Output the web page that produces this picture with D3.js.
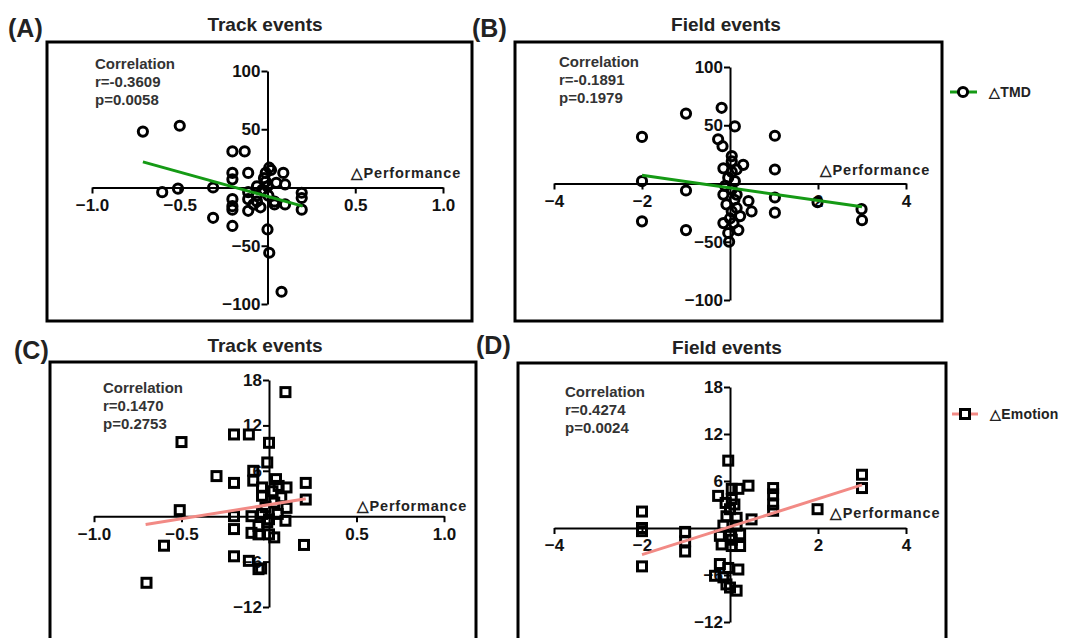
<!DOCTYPE html>
<html>
<head>
<meta charset="utf-8">
<script src="https://cdn.jsdelivr.net/npm/d3@7"></script>
<style>
  body { margin: 0; background: #fff; }
  svg { display: block; font-family: "Liberation Sans", Arial, sans-serif; }
  .tick-label { font-size: 17px; font-weight: bold; fill: #111; }
  .corr { font-size: 15px; font-weight: bold; fill: #333; }
  .title { font-size: 19px; font-weight: bold; fill: #222; }
  .plabel { font-size: 25px; font-weight: bold; fill: #222; }
  .xlab { font-size: 14.5px; font-weight: bold; fill: #222; letter-spacing: 0.8px; }
  .leg { font-size: 14px; font-weight: bold; fill: #222; letter-spacing: 0.2px; }
</style>
</head>
<body>
<svg id="chart" width="1065" height="638"></svg>
<script>
// ---- data ----
// (A) Track events, dTMD vs dPerformance
const aX = [-0.71, -0.50, -0.60, -0.51, -0.31, -0.31, -0.20, -0.13, -0.20, -0.20, -0.20, -0.20, -0.20, -0.20,
  -0.11, -0.11, -0.11, -0.11, -0.06, -0.06, -0.06, -0.01, 0.02, -0.01, -0.03, 0.005, 0.04, 0.00, 0.01, 0.08,
  0.09, 0.05, 0.10, 0.10, 0.04, 0.195, 0.195, 0.195, -0.04, -0.08, 0.00, 0.01, -0.02];
const aY = [48, 53, -4, -1, 0, -26, 31, 31, 12.5, 7, -10, -16, -19, -33,
  12.5, -4, -10, -20, 1, -7, -12, 12.5, 15, 5, -2, -7, -12, -36, -56, -89.5,
  12.5, 4, 2.6, -14.5, -14.5, -4.5, -9, -19, -17, -14.5, 1, 17, 8];
const aFitX = [-0.71, 0.2];
const aFitY = [22, -16];

// (B) Field events, dTMD vs dPerformance
const bX = [-2, -2, -2, -1, -1, -1, -0.19, 0.11, -0.27, -0.17, 0.04, 0.04, 0.30, -0.15, 0.15, 0.04, -0.11, 0.11,
  -0.15, 0.15, 0.42, -0.08, 0.15, 0.49, 0.04, 0.23, -0.15, 0.08, 0.19, -0.04, -0.02, 1.02, 1.02, 1.02, 1.02,
  1.99, 2.99, 3.0, 0.04, -0.04, 0.10, 0.00];
const bY = [40, 2, -32.5, 60, -6, -40, 65, 49, 38, 32, 23.5, 19, 16, 13, 12, 10, -2, 2,
  -9.5, -9.5, -15, -18, -21, -24, -24, -28, -34, -34, -40, -42.5, -50, 41, 12, -12, -25,
  -16, -22, -31.5, -5, 5, -14, -30];
const bFitX = [-2, 3];
const bFitY = [7, -20];

// (C) Track events, dEmotion vs dPerformance
const cX = [-0.50, -0.30, -0.20, -0.20, -0.51, -0.60, -0.70, -0.20, -0.20, -0.20, 0.094, -0.115, 0.00, -0.01,
  -0.09, 0.21, 0.21, 0.20, -0.115, -0.045, -0.09, 0.04, -0.04, 0.02, 0.10, 0.055, 0.10, -0.04, 0.03, -0.10,
  -0.04, 0.05, 0.094, 0.00, -0.10, -0.06, 0.00, 0.03, -0.06, -0.01, -0.06, -0.02, 0.07];
const cY = [9.8, 5.3, 10.8, 4.4, 0.8, -3.9, -8.8, 0, -1.7, -5.3, 16.4, 10.8, 9.7, 7.1,
  6, 4.4, 2.2, -3.8, -5.9, -6.9, 4.7, 4.9, 3.8, 3.3, 3.8, 4, 1.1, 2.7, 1.8, 0,
  0.3, 0.3, -0.6, -0.4, -2.2, -2.4, -2.4, -2.8, -1.3, -0.8, -7, 1.2, 2.5];
const cFitX = [-0.705, 0.21];
const cFitY = [-1.1, 2.3];

// (D) Field events, dEmotion vs dPerformance
const dX = [-2, -2, -2, -2, -1.02, -1.02, -1.02, -0.04, -0.27, 0.04, 0.19, 0.42, 0.04, 0.00, -0.08, 0.15, 0.49,
  -0.15, 0.15, -0.23, 0.00, 0.23, -0.19, 0.04, 0.23, -0.23, -0.04, 0.19, -0.34, -0.15, -0.08, 0.00, 0.15,
  0.98, 0.98, 0.98, 0.98, 1.99, 3.0, 3.0, 0.04, 0.10, -0.10];
const dY = [2.1, 0, -0.4, -4.9, -0.5, -1.7, -3, 8.6, 4.1, 5, 5, 5.4, 3.7, 2.4, 1.5, 1.3, 1.1,
  0.3, 0.3, -1, -1, -0.8, -2.1, -2.3, -2.3, -4.6, -5.1, -5.3, -6.1, -6.3, -7.2, -7.6, -8,
  5.1, 4.3, 3.0, 2.2, 2.4, 6.8, 5.1, -1.5, 3, 3.2];
const dFitX = [-2, 3];
const dFitY = [-3.4, 5.5];

const trackXTicks = [-1.0, -0.5, 0.5, 1.0];
const fieldXTicks = [-4, -2, 2, 4];
const tmdYTicks = [-100, -50, 50, 100];
const emoYTicks = [-12, -6, 6, 12, 18];

const svg = d3.select("#chart");

function drawPanel(p) {
  const g = svg.append("g");
  const x = d3.scaleLinear().domain(p.xDomain).range(p.xRange);
  const y = d3.scaleLinear().domain(p.yDomain).range(p.yRange);

  // frame
  g.append("rect")
    .attr("x", p.frame[0]).attr("y", p.frame[1])
    .attr("width", p.frame[2] - p.frame[0]).attr("height", p.frame[3] - p.frame[1])
    .attr("fill", "none").attr("stroke", "#000").attr("stroke-width", 3);

  // panel letter and title
  g.append("text").attr("class", "plabel").attr("x", p.letterPos[0]).attr("y", p.letterPos[1]).text(p.letter);
  g.append("text").attr("class", "title").attr("text-anchor", "middle")
    .attr("x", p.titlePos[0]).attr("y", p.titlePos[1]).text(p.title);

  // x axis through y=0
  const xAxis = g.append("g").attr("transform", `translate(0,${y(0)})`)
    .call(d3.axisBottom(x).tickValues(p.xTicks).tickSize(6).tickSizeOuter(0)
      .tickFormat(p.xFormat));
  // y axis through x=0
  const yAxis = g.append("g").attr("transform", `translate(${x(0)},0)`)
    .call(d3.axisLeft(y).tickValues(p.yTicks).tickSize(6).tickPadding(1).tickSizeOuter(0));
  [xAxis, yAxis].forEach((ax) => {
    ax.select(".domain").attr("stroke", "#000").attr("stroke-width", 2);
    ax.selectAll(".tick line").attr("stroke", "#000").attr("stroke-width", 2);
    ax.selectAll(".tick text").attr("class", "tick-label").attr("font-family", null).attr("font-size", null);
  });
  xAxis.selectAll(".tick text").attr("dy", "0.85em");

  // x axis name
  g.append("text").attr("class", "xlab").attr("text-anchor", p.xlabAnchor)
    .attr("x", p.xlabPos[0]).attr("y", p.xlabPos[1]).text("\u25B3Performance");

  // correlation box
  const ct = g.append("text").attr("class", "corr").attr("x", p.corrPos[0]).attr("y", p.corrPos[1]);
  p.corr.forEach((s, i) => ct.append("tspan").attr("x", p.corrPos[0]).attr("dy", i ? 18 : 0).text(s));

  // points
  const pts = p.xs.map((v, i) => ({ x: v, y: p.ys[i] }));
  if (p.marker === "circle") {
    g.selectAll(".pt").data(pts).enter().append("circle")
      .attr("cx", (d) => x(d.x)).attr("cy", (d) => y(d.y)).attr("r", 4.6)
      .attr("fill", "none").attr("stroke", "#000").attr("stroke-width", 3);
  } else {
    g.selectAll(".pt").data(pts).enter().append("rect")
      .attr("x", (d) => x(d.x) - 4.5).attr("y", (d) => y(d.y) - 4.5)
      .attr("width", 9).attr("height", 9)
      .attr("fill", "none").attr("stroke", "#000").attr("stroke-width", 3);
  }

  // regression line
  const fit = p.fitX.map((v, i) => [x(v), y(p.fitY[i])]);
  g.append("path").attr("d", d3.line()(fit))
    .attr("stroke", p.lineColor).attr("stroke-width", 3).attr("fill", "none");
}

const fmt1 = d3.format(".1f");
const fmt0 = d3.format("d");

drawPanel({
  letter: "(A)", letterPos: [8, 37], title: "Track events", titlePos: [265, 31],
  frame: [47, 42, 472, 321],
  xDomain: [-1, 1], xRange: [92, 443], yDomain: [-100, 100], yRange: [304, 71],
  xTicks: trackXTicks, yTicks: tmdYTicks, xFormat: fmt1,
  xlabPos: [461, 178], xlabAnchor: "end",
  corrPos: [95, 69], corr: ["Correlation", "r=-0.3609", "p=0.0058"],
  xs: aX, ys: aY, fitX: aFitX, fitY: aFitY, marker: "circle", lineColor: "#159a15"
});

drawPanel({
  letter: "(B)", letterPos: [472, 37], title: "Field events", titlePos: [726, 31],
  frame: [515, 42, 942, 321],
  xDomain: [-4, 4], xRange: [554, 906], yDomain: [-100, 100], yRange: [300, 67],
  xTicks: fieldXTicks, yTicks: tmdYTicks, xFormat: fmt0,
  xlabPos: [930, 175], xlabAnchor: "end",
  corrPos: [559, 67], corr: ["Correlation", "r=-0.1891", "p=0.1979"],
  xs: bX, ys: bY, fitX: bFitX, fitY: bFitY, marker: "circle", lineColor: "#159a15"
});

drawPanel({
  letter: "(C)", letterPos: [14, 359], title: "Track events", titlePos: [265, 352],
  frame: [50, 362, 476, 646],
  xDomain: [-1, 1], xRange: [94, 444], yDomain: [-12, 18], yRange: [607, 380],
  xTicks: trackXTicks, yTicks: emoYTicks, xFormat: fmt1,
  xlabPos: [467, 511], xlabAnchor: "end",
  corrPos: [103, 393], corr: ["Correlation", "r=0.1470", "p=0.2753"],
  xs: cX, ys: cY, fitX: cFitX, fitY: cFitY, marker: "square", lineColor: "#f28a85"
});

drawPanel({
  letter: "(D)", letterPos: [476, 354], title: "Field events", titlePos: [727, 354],
  frame: [518, 363, 946, 646],
  xDomain: [-4, 4], xRange: [554, 906], yDomain: [-12, 18], yRange: [622, 387],
  xTicks: fieldXTicks, yTicks: emoYTicks, xFormat: fmt0,
  xlabPos: [830, 518], xlabAnchor: "start",
  corrPos: [565, 397], corr: ["Correlation", "r=0.4274", "p=0.0024"],
  xs: dX, ys: dY, fitX: dFitX, fitY: dFitY, marker: "square", lineColor: "#f28a85"
});

// legends
const leg1 = svg.append("g");
leg1.append("line").attr("x1", 950).attr("x2", 977).attr("y1", 92).attr("y2", 92)
  .attr("stroke", "#159a15").attr("stroke-width", 3);
leg1.append("circle").attr("cx", 963).attr("cy", 92).attr("r", 4.6)
  .attr("fill", "#fff").attr("stroke", "#000").attr("stroke-width", 3);
leg1.append("text").attr("class", "leg").attr("x", 989).attr("y", 97).text("\u25B3TMD");

const leg2 = svg.append("g");
leg2.append("line").attr("x1", 952).attr("x2", 978).attr("y1", 414).attr("y2", 414)
  .attr("stroke", "#f28a85").attr("stroke-width", 3);
leg2.append("rect").attr("x", 960.5).attr("y", 409.5).attr("width", 9).attr("height", 9)
  .attr("fill", "#fff").attr("stroke", "#000").attr("stroke-width", 3);
leg2.append("text").attr("class", "leg").attr("x", 990).attr("y", 419).text("\u25B3Emotion");
</script>
</body>
</html>
